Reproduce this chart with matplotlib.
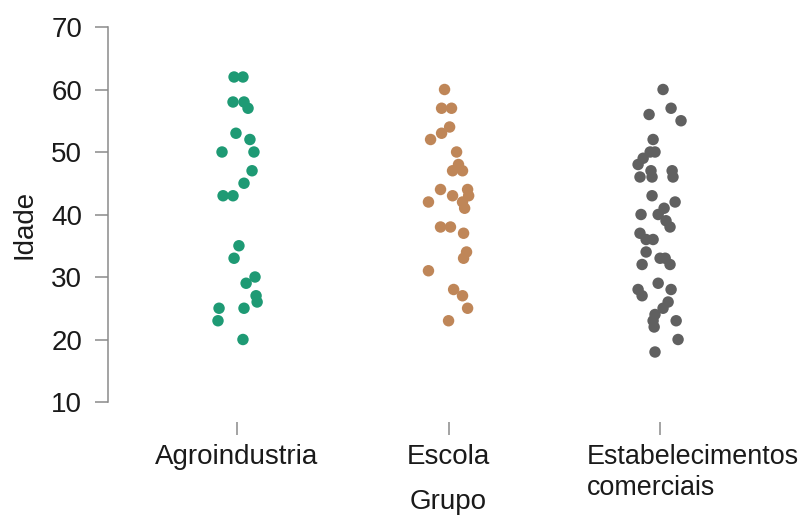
import matplotlib
matplotlib.use("Agg")
import matplotlib.pyplot as plt
import matplotlib.transforms as mtransforms

plt.rcParams['font.family'] = ['Liberation Sans', 'DejaVu Sans']

# Groups, tick labels and ages
groups = ["Agroindustria", "Escola", "Estabelecimentos\ncomerciais"]
colors = ["#1e9a74", "#bf8658", "#606060"]

idade_agro = [62, 62, 58, 58, 57, 53, 52, 50, 50, 47, 45, 43, 43,
              35, 33, 30, 29, 27, 26, 25, 25, 23, 20]
jitter_agro = [-0.014, 0.028, -0.019, 0.033, 0.052, -0.005, 0.061, -0.071,
               0.080, 0.071, 0.033, -0.066, -0.019, 0.009, -0.014, 0.085,
               0.043, 0.090, 0.095, -0.085, 0.033, -0.090, 0.028]

idade_escola = [60, 57, 57, 54, 53, 52, 50, 48, 47, 47, 44, 44, 43, 43,
                42, 42, 41, 38, 38, 37, 34, 33, 31, 28, 27, 25, 23]
jitter_escola = [-0.019, -0.033, 0.014, 0.005, -0.033, -0.085, 0.038, 0.047,
                 0.019, 0.066, -0.038, 0.090, 0.019, 0.095, -0.095, 0.066,
                 0.076, -0.038, 0.009, 0.071, 0.085, 0.071, -0.095, 0.024,
                 0.066, 0.090, 0.000]

idade_comercio = [60, 57, 56, 55, 52, 50, 50, 49, 48, 47, 46, 47, 46, 46,
                  43, 42, 41, 40, 40, 39, 38, 37, 36, 36, 34, 32, 33, 33,
                  32, 29, 28, 27, 28, 26, 25, 24, 23, 22, 23, 20, 18]
jitter_comercio = [0.014, 0.052, -0.052, 0.099, -0.033, -0.024, -0.047,
                   -0.080, -0.104, -0.043, -0.038, 0.057, 0.061, -0.095,
                   -0.038, 0.071, 0.019, -0.090, -0.009, 0.028, 0.047,
                   -0.095, -0.066, -0.033, -0.066, -0.085, 0.000, 0.024,
                   0.047, -0.009, -0.104, -0.085, 0.052, 0.038, 0.014,
                   -0.024, -0.033, -0.028, 0.076, 0.085, -0.024]

yticks = [10, 20, 30, 40, 50, 60, 70]

series = [(idade_agro, jitter_agro), (idade_escola, jitter_escola),
          (idade_comercio, jitter_comercio)]

fig = plt.figure(figsize=(8.01, 5.17), dpi=100)
ax = fig.add_axes([108 / 801, 95 / 517, (787 - 108) / 801, (422 - 27) / 517])

for i, ((vals, jit), col) in enumerate(zip(series, colors)):
    xs = [i + j for j in jit]
    ax.scatter(xs, vals, s=68, color=col, edgecolors="none", zorder=3)

ax.set_xlim(-0.61, 2.60)
ax.set_ylim(6.8, 70.0)
ax.set_yticks(yticks)
ax.set_xticks(range(len(groups)))
ax.set_xticklabels(groups)

grey = "#8a8a8a"
for side in ("top", "right", "bottom"):
    ax.spines[side].set_visible(False)
ax.spines["left"].set_bounds(10, 70)
ax.spines["left"].set_color(grey)
ax.spines["left"].set_linewidth(1.1)

fs = 20
ax.tick_params(axis="both", colors=grey, width=1.1, length=9.5,
               labelsize=fs, labelcolor="#1a1a1a")
ax.tick_params(axis="y", pad=9)
ax.tick_params(axis="x", pad=6)

# third category label: left aligned block, shifted left of its tick
lab3 = ax.get_xticklabels()[2]
lab3.set_fontsize(19.4)
lab3.set_horizontalalignment("left")
lab3.set_multialignment("left")
lab3.set_linespacing(1.25)
lab3.set_transform(lab3.get_transform() +
                   mtransforms.ScaledTranslation(-0.735, 0, fig.dpi_scale_trans))

ax.set_ylabel("Idade", fontsize=fs, color="#1a1a1a", labelpad=10)
ax.set_xlabel("Grupo", fontsize=fs, color="#1a1a1a")
ax.xaxis.set_label_coords((1 + 0.61) / 3.21, -(489 - 422) / 395)

fig.savefig("out.png", dpi=100, facecolor="white")
